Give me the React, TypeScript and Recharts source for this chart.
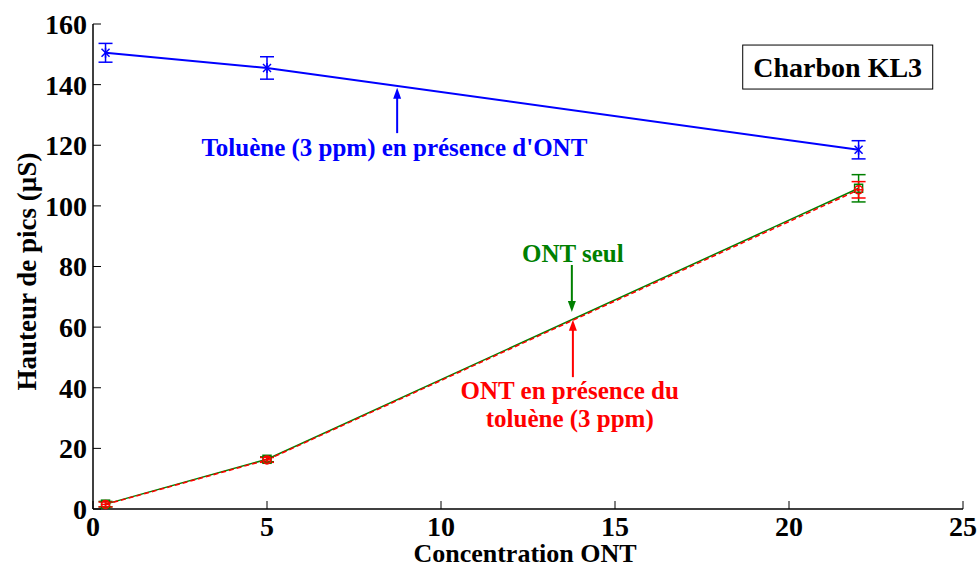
import React from 'react';
import {
  ComposedChart, Line, XAxis, YAxis, ErrorBar, ReferenceLine, ReferenceDot,
} from 'recharts';

const concentrations = [0.36, 5, 22];
const tolueneValues = [150.5, 145.5, 118.5];
const tolueneErrors = [3.1, 3.7, 3.0];
const ontSeulValues = [1.6, 16.4, 105.8];
const ontSeulErrors = [0.9, 0.8, 4.5];
const ontTolueneValues = [1.5, 16.2, 105.3];
const ontTolueneErrors = [0.8, 0.8, 2.7];

const xTicks = [0, 5, 10, 15, 20, 25];
const yTicks = [0, 20, 40, 60, 80, 100, 120, 140, 160];

const toRows = (vals: number[], errs: number[]) =>
  concentrations.map((x, i) => ({ x, y: vals[i], err: errs[i] }));

const tolueneData = toRows(tolueneValues, tolueneErrors);
const ontSeulData = toRows(ontSeulValues, ontSeulErrors);
const ontTolueneData = toRows(ontTolueneValues, ontTolueneErrors);

const FONT = '"Liberation Serif", "Times New Roman", serif';
const BLUE = '#0000ff';
const GREEN = '#008000';
const RED = '#ff0000';

const StarDot = (p: any) => {
  const { cx, cy } = p;
  if (cx == null || cy == null) return null;
  const s = 4;
  return (
    <g stroke={BLUE} strokeWidth={1.5}>
      <line x1={cx - s} y1={cy - s} x2={cx + s} y2={cy + s} />
      <line x1={cx - s} y1={cy + s} x2={cx + s} y2={cy - s} />
      <line x1={cx} y1={cy - s - 1} x2={cx} y2={cy + s + 1} />
    </g>
  );
};
const SquareDot = (p: any) => {
  const { cx, cy } = p;
  if (cx == null || cy == null) return null;
  return <rect x={cx - 4} y={cy - 4} width={8} height={8} fill="none" stroke={GREEN} strokeWidth={1.5} />;
};
const CircleDot = (p: any) => {
  const { cx, cy } = p;
  if (cx == null || cy == null) return null;
  return (
    <g stroke={RED} strokeWidth={1.5} fill="none">
      <circle cx={cx} cy={cy} r={4} />
      <line x1={cx - 4} y1={cy} x2={cx + 4} y2={cy} />
    </g>
  );
};

const arrowShape = (color: string) => (p: any) => {
  const { x1, y1, x2, y2 } = p;
  if (x1 == null) return null;
  const dx = x2 - x1, dy = y2 - y1;
  const len = Math.sqrt(dx * dx + dy * dy) || 1;
  const ux = dx / len, uy = dy / len;
  const hl = 11, hw = 4;
  const bx = x2 - ux * hl, by = y2 - uy * hl;
  return (
    <g>
      <line x1={x1} y1={y1} x2={bx + ux * 2} y2={by + uy * 2} stroke={color} strokeWidth={2} />
      <polygon
        points={`${x2},${y2} ${bx - uy * hw},${by + ux * hw} ${bx + uy * hw},${by - ux * hw}`}
        fill={color}
      />
    </g>
  );
};

const textShape = (lines: string[], color: string, size: number, box?: boolean) => (p: any) => {
  const { cx, cy } = p;
  if (cx == null) return null;
  const lh = size * 1.12;
  const y0 = cy - ((lines.length - 1) * lh) / 2;
  return (
    <g>
      {box && (
        <rect x={cx - 95} y={cy - 22} width={190} height={44} fill="#fff" stroke="#000" strokeWidth={1} />
      )}
      {lines.map((l, i) => (
        <text
          key={i}
          x={cx}
          y={y0 + i * lh}
          dy="0.35em"
          textAnchor="middle"
          fill={color}
          fontFamily={FONT}
          fontWeight="bold"
          fontSize={size}
        >
          {l}
        </text>
      ))}
    </g>
  );
};

const tickStyle = { fontFamily: FONT, fontWeight: 'bold' as const, fontSize: 28, fill: '#000' };

export default function App() {
  return (
    <div style={{ position: 'absolute', left: 0, top: 0, background: '#fff' }}>
      <ComposedChart
        width={977}
        height={569}
        margin={{ top: 24, right: 14, bottom: 0, left: 0 }}
      >
        <XAxis
          xAxisId="b"
          dataKey="x"
          type="number"
          domain={[0, 25]}
          ticks={xTicks}
          allowDuplicatedCategory={false}
          height={60}
          tickSize={-8}
          tickMargin={15}
          axisLine={{ stroke: '#000', strokeWidth: 1.5 }}
          tickLine={{ stroke: '#000', strokeWidth: 1 }}
          tick={tickStyle}
          label={{
            content: (props: any) => {
              const vb = props.viewBox || {};
              return (
                <text
                  x={vb.x + vb.width / 2 - 3}
                  y={562}
                  textAnchor="middle"
                  fontFamily={FONT}
                  fontWeight="bold"
                  fontSize={26}
                  fill="#000"
                >
                  Concentration ONT
                </text>
              );
            },
          }}
        />
        <XAxis
          xAxisId="t"
          orientation="top"
          dataKey="x"
          type="number"
          domain={[0, 25]}
          ticks={xTicks}
          height={0}
          tickSize={-8}
          tick={false}
          axisLine={{ stroke: '#000', strokeWidth: 1.5 }}
          tickLine={{ stroke: '#000', strokeWidth: 1 }}
        />
        <YAxis
          yAxisId="l"
          type="number"
          domain={[0, 160]}
          ticks={yTicks}
          width={93}
          tickSize={-8}
          tickMargin={14}
          axisLine={{ stroke: '#000', strokeWidth: 1.5 }}
          tickLine={{ stroke: '#000', strokeWidth: 1 }}
          tick={tickStyle}
          label={{
            content: (props: any) => {
              const vb = props.viewBox || {};
              const cx = 27;
              const cy = vb.y + vb.height / 2 + 5;
              return (
                <text
                  x={cx}
                  y={cy}
                  transform={`rotate(-90, ${cx}, ${cy})`}
                  textAnchor="middle"
                  dominantBaseline="central"
                  fontFamily={FONT}
                  fontWeight="bold"
                  fontSize={27}
                  fill="#000"
                >
                  Hauteur de pics (µS)
                </text>
              );
            },
          }}
        />
        <YAxis
          yAxisId="r"
          orientation="right"
          type="number"
          domain={[0, 160]}
          ticks={yTicks}
          width={0}
          tickSize={-8}
          tick={false}
          axisLine={{ stroke: '#000', strokeWidth: 1.5 }}
          tickLine={{ stroke: '#000', strokeWidth: 1 }}
        />

        <Line
          xAxisId="b"
          yAxisId="l"
          data={tolueneData}
          dataKey="y"
          type="linear"
          stroke={BLUE}
          strokeWidth={2}
          dot={<StarDot />}
          activeDot={false}
          isAnimationActive={false}
        >
          <ErrorBar dataKey="err" direction="y" width={7} stroke={BLUE} strokeWidth={1.5} />
        </Line>
        <Line
          xAxisId="b"
          yAxisId="l"
          data={ontSeulData}
          dataKey="y"
          type="linear"
          stroke={GREEN}
          strokeWidth={1.5}
          dot={<SquareDot />}
          activeDot={false}
          isAnimationActive={false}
        >
          <ErrorBar dataKey="err" direction="y" width={7} stroke={GREEN} strokeWidth={1.5} />
        </Line>
        <Line
          xAxisId="b"
          yAxisId="l"
          data={ontTolueneData}
          dataKey="y"
          type="linear"
          stroke={RED}
          strokeWidth={1.5}
          strokeDasharray="5 3"
          dot={<CircleDot />}
          activeDot={false}
          isAnimationActive={false}
        >
          <ErrorBar dataKey="err" direction="y" width={7} stroke={RED} strokeWidth={1.5} />
        </Line>

        <ReferenceLine
          xAxisId="b"
          yAxisId="l"
          segment={[{ x: 8.74, y: 124.0 }, { x: 8.74, y: 139.0 }]}
          shape={arrowShape(BLUE)}
        />
        <ReferenceLine
          xAxisId="b"
          yAxisId="l"
          segment={[{ x: 13.76, y: 80.5 }, { x: 13.76, y: 65.0 }]}
          shape={arrowShape(GREEN)}
        />
        <ReferenceLine
          xAxisId="b"
          yAxisId="l"
          segment={[{ x: 13.79, y: 43.5 }, { x: 13.79, y: 62.4 }]}
          shape={arrowShape(RED)}
        />

        <ReferenceDot
          xAxisId="b"
          yAxisId="l"
          x={8.66}
          y={119.3}
          r={0}
          shape={textShape(["Toluène (3 ppm) en présence d'ONT"], BLUE, 25)}
        />
        <ReferenceDot
          xAxisId="b"
          yAxisId="l"
          x={13.79}
          y={84.5}
          r={0}
          shape={textShape(['ONT seul'], GREEN, 25)}
        />
        <ReferenceDot
          xAxisId="b"
          yAxisId="l"
          x={13.7}
          y={34.6}
          r={0}
          shape={textShape(['ONT en présence du', 'toluène (3 ppm)'], RED, 25)}
        />
        <ReferenceDot
          xAxisId="b"
          yAxisId="l"
          x={21.4}
          y={145.8}
          r={0}
          shape={textShape(['Charbon KL3'], '#000', 28, true)}
        />
      </ComposedChart>
    </div>
  );
}
